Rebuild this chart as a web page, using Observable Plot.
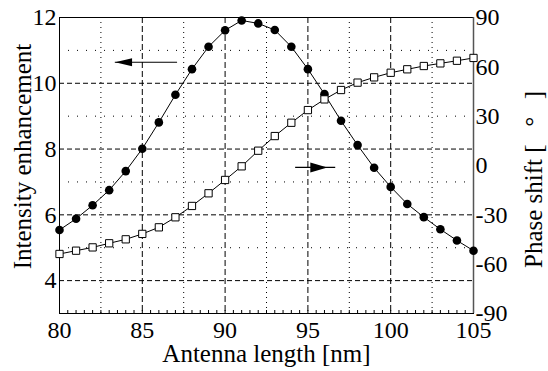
<!DOCTYPE html>
<html>
<head>
<meta charset="utf-8">
<script src="https://cdn.jsdelivr.net/npm/d3@7"></script>
<script src="https://cdn.jsdelivr.net/npm/@observablehq/plot@0.6"></script>
<style>
  html, body { margin: 0; padding: 0; background: #fff; }
  svg { display: block; }
  svg, svg text { font-family: "Liberation Serif", "Times New Roman", serif !important; }
</style>
</head>
<body>
<div id="chart"></div>
<script>
// Antenna length [nm]
const lengths = [80,81,82,83,84,85,86,87,88,89,90,91,92,93,94,95,96,97,98,99,100,101,102,103,104,105];
// Intensity enhancement (left axis)
const intensity = [5.54,5.88,6.29,6.75,7.33,8.01,8.81,9.65,10.43,11.11,11.61,11.91,11.82,11.62,11.11,10.43,9.67,8.86,8.12,7.43,6.85,6.33,5.93,5.56,5.22,4.91];
// Phase shift [deg] (right axis)
const phase = [-53.8,-51.8,-49.8,-47.3,-44.9,-41.6,-37.6,-31.5,-24.6,-16.9,-8.8,-0.5,9.0,17.9,26.0,33.7,40.2,45.9,50.4,53.6,56.4,58.5,60.5,62.1,63.7,65.4];

const xTicks = [80,85,90,95,100,105];
const xMinorTicks = [80.5,81,81.5,82,82.5,83,83.5,84,84.5,85,85.5,86,86.5,87,87.5,88,88.5,89,89.5,90,90.5,91,91.5,92,92.5,93,93.5,94,94.5,95,95.5,96,96.5,97,97.5,98,98.5,99,99.5,100,100.5,101,101.5,102,102.5,103,103.5,104,104.5];
const xDashedGrid = [85,90,95,100];
const xDottedGrid = [82.5,87.5,92.5,97.5,102.5];
const yLeftTicks = [4,6,8,10,12];
const yDashedGrid = [4,6,8,10];
const yDottedGrid = [5,7,9,11];
const phaseTicks = [-90,-60,-30,0,30,60,90];
const leftDomain = [3,12];
const phaseDomain = [-90,90];

// annotation arrows (data coords)
const arrowLeft = {x1: 87.13, x2: 83.37, head: 83.87, y: 10.64};
const arrowRight = {x1: 94.26, x2: 96.68, head: 95.66, y: 7.44};

// map phase onto the left scale (dual axis)
const k = (leftDomain[1] - leftDomain[0]) / (phaseDomain[1] - phaseDomain[0]);
const toLeft = p => leftDomain[0] + (p - phaseDomain[0]) * k;
const fromLeft = v => Math.round(phaseDomain[0] + (v - leftDomain[0]) / k);

const rows = lengths.map((x, i) => ({x, intensity: intensity[i], phase: phase[i]}));

const headL = {draw(ctx) { ctx.moveTo(-8.5, 0); ctx.lineTo(8.5, -4); ctx.lineTo(8.5, 4); ctx.closePath(); }};
const headR = {draw(ctx) { ctx.moveTo(8.5, 0); ctx.lineTo(-8.5, -5); ctx.lineTo(-8.5, 5); ctx.closePath(); }};

const font = "'Liberation Serif', 'Times New Roman', serif";
const fs = 24;
const fsTitle = 25;

const chart = Plot.plot({
  width: 548,
  height: 371,
  marginLeft: 59,
  marginRight: 75,
  marginTop: 17,
  marginBottom: 58,
  style: {fontFamily: font, fontSize: fs + "px", background: "#fff", color: "#000"},
  x: {domain: [80, 105]},
  y: {domain: leftDomain},
  marks: [
    Plot.ruleX(xDottedGrid, {stroke: "#000", strokeWidth: 1, strokeDasharray: "1,4"}),
    Plot.ruleY(yDottedGrid, {stroke: "#000", strokeWidth: 1, strokeDasharray: "1,8"}),
    Plot.ruleX(xDashedGrid, {stroke: "#000", strokeWidth: 1, strokeDasharray: "6,3"}),
    Plot.ruleY(yDashedGrid, {stroke: "#000", strokeWidth: 1, strokeDasharray: "5,3"}),
    Plot.axisX(xMinorTicks, {anchor: "bottom", tickSize: -3, tickFormat: () => "", stroke: "#000"}),
    Plot.axisX(xTicks, {anchor: "bottom", tickSize: 0, tickPadding: 7, fontSize: fs, label: null, tickFormat: d => String(d)}),
    Plot.axisY(yLeftTicks, {anchor: "left", tickSize: 0, tickPadding: 3, fontSize: fs, label: null, tickFormat: d => String(d)}),
    Plot.axisY(phaseTicks.map(toLeft), {anchor: "right", tickSize: 0, tickPadding: 2, fontSize: fs, label: null, tickFormat: d => String(fromLeft(d))}),
    Plot.frame({stroke: "#000", strokeWidth: 1}),
    Plot.ruleX([105], {stroke: "#555", strokeWidth: 1.5}),
    // arrows
    Plot.ruleY([arrowLeft], {x1: "x1", x2: "x2", y: "y", stroke: "#000", strokeWidth: 1.2}),
    Plot.dot([arrowLeft], {x: "head", y: "y", symbol: headL, fill: "#000", stroke: "none"}),
    Plot.ruleY([arrowRight], {x1: "x1", x2: "x2", y: "y", stroke: "#000", strokeWidth: 1.2}),
    Plot.dot([arrowRight], {x: "head", y: "y", symbol: headR, fill: "#000", stroke: "none"}),
    // series
    Plot.line(rows, {x: "x", y: "intensity", stroke: "#000", strokeWidth: 1}),
    Plot.line(rows, {x: "x", y: d => toLeft(d.phase), stroke: "#000", strokeWidth: 1}),
    Plot.dot(rows, {x: "x", y: "intensity", r: 4.3, fill: "#000", stroke: "none"}),
    Plot.dot(rows, {x: "x", y: d => toLeft(d.phase), symbol: "square", r: 4.1, fill: "#fff", stroke: "#000", strokeWidth: 1}),
    // axis titles
    Plot.text(["Antenna length [nm]"], {frameAnchor: "bottom", textAnchor: "middle", dy: 48, fontSize: fsTitle, fill: "#000"}),
    Plot.text(["Intensity enhancement"], {frameAnchor: "left", textAnchor: "middle", dx: -37, dy: -9, rotate: -90, fontSize: fsTitle, fill: "#000"}),
    Plot.text(["Phase shift [\u2002\u2009°\u2002\u2009]"], {frameAnchor: "right", textAnchor: "middle", dx: 60, dy: 14, rotate: -90, fontSize: fsTitle, fill: "#000"})
  ]
});
document.getElementById("chart").appendChild(chart);
</script>
</body>
</html>
